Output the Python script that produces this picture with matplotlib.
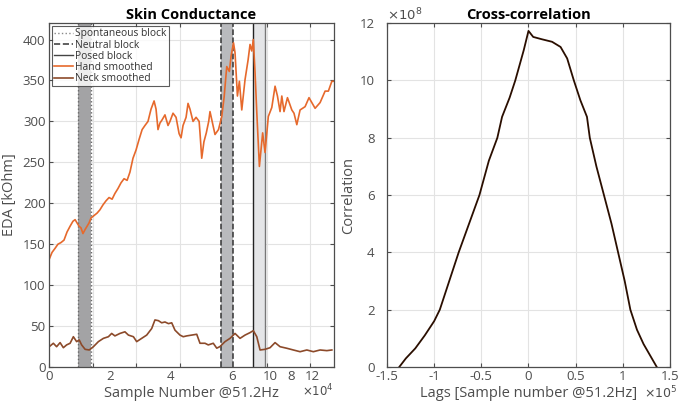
import numpy as np
import matplotlib.pyplot as plt

plt.rcParams['font.family'] = ['Open Sans', 'DejaVu Sans']

# --- data (x in units of 1e4 samples) ---
hand_x = [0.00, 0.14, 0.28, 0.41, 0.55, 0.69, 0.83, 0.97, 1.10, 1.20, 1.29, 1.38, 1.47, 1.56,
          1.66, 1.75, 1.84, 1.93, 2.07, 2.21, 2.34, 2.48, 2.62, 2.76, 2.90, 3.03, 3.17, 3.31,
          3.45, 3.59, 3.72, 3.86, 4.00, 4.14, 4.28, 4.41, 4.55, 4.69, 4.83, 4.92, 5.01, 5.10,
          5.20, 5.33, 5.47, 5.56, 5.70, 5.84, 5.98, 6.07, 6.16, 6.30, 6.39, 6.48, 6.62, 6.76,
          6.90, 6.94, 7.02, 7.12, 7.23, 7.34, 7.40, 7.63, 7.79, 7.94, 8.05, 8.17, 8.29, 8.37,
          8.48, 8.55, 8.66, 8.75, 8.86, 9.01, 9.15, 9.24, 9.32, 9.39, 9.47, 9.55, 9.67, 9.82,
          9.93, 10.08, 10.24, 10.39, 10.50, 10.62, 10.70, 10.80, 10.96, 11.16, 11.26, 11.39,
          11.54, 11.77, 11.95, 12.23, 12.46, 12.69, 12.84, 13.00, 13.07]
hand_y = [131, 140, 145, 150, 152, 155, 165, 172, 178, 180, 176, 172, 170, 163,
          168, 172, 176, 182, 185, 188, 192, 198, 203, 207, 205, 212, 218, 225,
          230, 228, 238, 255, 265, 278, 290, 295, 300, 315, 325, 315, 290, 298,
          302, 308, 295, 300, 310, 305, 285, 280, 295, 305, 322, 315, 300, 305,
          300, 286, 255, 275, 286, 300, 312, 284, 290, 306, 330, 367, 361, 380,
          396, 384, 331, 349, 314, 351, 375, 394, 386, 400, 360, 311, 245, 286,
          262, 306, 317, 343, 331, 312, 331, 312, 329, 314, 310, 296,
          314, 318, 329, 316, 323, 337, 337, 349, 349]

neck_x = [0.01, 0.20, 0.35, 0.51, 0.66, 0.81, 0.97, 1.12, 1.27, 1.39, 1.50, 1.66, 1.85, 2.04,
          2.27, 2.50, 2.73, 2.88, 3.03, 3.26, 3.49, 3.65, 3.88, 4.03, 4.26, 4.49, 4.72, 4.87,
          5.03, 5.18, 5.33, 5.49, 5.64, 5.79, 6.02, 6.17, 6.33, 6.56, 6.79, 6.94, 7.17, 7.32,
          7.55, 7.71, 7.86, 8.09, 8.32, 8.55, 8.78, 9.01, 9.24, 9.39, 9.55, 9.70, 9.93, 10.16,
          10.39, 10.62, 10.93, 11.23, 11.54, 11.85, 12.15, 12.46, 12.77, 13.00]
neck_y = [24.8, 29, 24.8, 29.8, 23.6, 27, 29, 37, 31, 33, 27, 21.6, 20.8, 24.8,
          31, 35, 37, 41, 38, 41, 43, 39, 37, 31, 35, 39, 47, 57.5,
          56.6, 54, 55, 53, 54, 45, 39, 37, 38, 39, 40, 29, 29, 27,
          29, 23, 25, 31, 35, 41, 35, 39, 42, 44.4, 37, 20.8, 21.6, 23.6,
          29.8, 24.8, 22.9, 20.8, 18.7, 20.8, 18.7, 20.8, 20, 20.8]

spont_block = (1.35, 1.92)
neutral_block = (7.89, 8.45)
posed_block = (9.39, 9.94)

# cross-correlation (lags in 1e5 samples, correlation in 1e8)
lags = [-1.37, -1.30, -1.20, -1.10, -1.00, -0.94, -0.85, -0.74, -0.63, -0.52, -0.42, -0.33,
        -0.28, -0.20, -0.14, -0.05, 0.00, 0.05, 0.14, 0.25, 0.34, 0.41, 0.48, 0.55, 0.62,
        0.65, 0.72, 0.80, 0.88, 0.95, 1.02, 1.08, 1.15, 1.22, 1.29, 1.36]
xcorr = [0.0, 0.3, 0.65, 1.1, 1.6, 2.0, 2.9, 4.0, 5.0, 6.0, 7.2, 8.0,
         8.73, 9.4, 10.0, 11.06, 11.73, 11.52, 11.44, 11.35, 11.17, 10.77, 10.01, 9.31, 8.73,
         8.0, 7.0, 6.0, 5.0, 4.0, 3.0, 2.0, 1.3, 0.8, 0.4, 0.0]

hand_color = '#e6692c'
neck_color = '#8c4a2a'
tick_color = '#4d4d4d'

fig = plt.figure(figsize=(6.94, 4.05), dpi=100)
ax1 = fig.add_axes([0.0706, 0.0938, 0.4107, 0.849])
ax2 = fig.add_axes([0.5576, 0.0938, 0.4078, 0.849])

def style_axes(ax):
    ax.grid(True, color='#e3e3e3', linewidth=0.8)
    ax.set_axisbelow(True)
    for s in ax.spines.values():
        s.set_color('#4d4d4d')
        s.set_linewidth(0.9)
    ax.tick_params(direction='in', top=True, right=True, colors=tick_color,
                   labelsize=9.5, length=3)
    ax.tick_params(axis='x', pad=1.5)
    ax.tick_params(axis='y', pad=2.5)

# --- left: skin conductance ---
style_axes(ax1)
ax1.axvspan(*spont_block, color='#a3a3a5', lw=0)
ax1.axvspan(*neutral_block, color='#b9babd', lw=0)
ax1.axvspan(*posed_block, color='#e4e5e7', lw=0)
for xv in spont_block:
    ax1.axvline(xv, color='#6a6a6a', ls=':', lw=1)
for xv in neutral_block:
    ax1.axvline(xv, color='#333333', ls='--', lw=1.1)
ax1.axvline(posed_block[0], color='#222222', ls='-', lw=1)
ax1.axvline(posed_block[1], color='#777777', ls='-', lw=1)

ax1.plot(hand_x, hand_y, color=hand_color, lw=1.2)
ax1.plot(neck_x, neck_y, color=neck_color, lw=1.2)

ax1.set_xlim(0, 13.1)
ax1.set_ylim(0, 420)
ax1.set_yticks(range(0, 401, 50))
ax1.set_xticks(range(0, 13, 2))
ax1.set_xticklabels([])
# tick labels as they appear in the original figure
lab_pos = [0, 2.8, 5.6, 8.4, 10.15, 11.15, 12.1]
lab_txt = ['0', '2', '4', '6', '10', '8', '12']
for p, t in zip(lab_pos, lab_txt):
    ax1.text(p, -4, t, ha='center', va='top', fontsize=9.5, color=tick_color)
ax1.text(1.0, -0.045, r'$\times10^4$', transform=ax1.transAxes, ha='right', va='top',
         fontsize=8.5, color=tick_color)
ax1.set_xlabel('Sample Number @51.2Hz', fontsize=10.5, color=tick_color, labelpad=12)
ax1.set_ylabel('EDA [kOhm]', fontsize=10.5, color=tick_color, labelpad=4)
ax1.set_title('Skin Conductance', fontsize=10.5, fontweight='bold', pad=3)

handles = [
    plt.Line2D([], [], color='#888888', ls=':', lw=1),
    plt.Line2D([], [], color='#444444', ls='--', lw=1.2),
    plt.Line2D([], [], color='#444444', ls='-', lw=1),
    plt.Line2D([], [], color=hand_color, lw=1.2),
    plt.Line2D([], [], color=neck_color, lw=1.2),
]
labels = ['Spontaneous block', 'Neutral block', 'Posed block', 'Hand smoothed', 'Neck smoothed']
leg = ax1.legend(handles, labels, loc='upper left', fontsize=7.4, frameon=True, fancybox=False,
                 handlelength=1.8, handletextpad=0.25, borderpad=0.2, labelspacing=0.02,
                 borderaxespad=0.3, labelcolor='#333333')
leg.get_frame().set_edgecolor('#333333')
leg.get_frame().set_linewidth(0.8)

# --- right: cross-correlation ---
style_axes(ax2)
ax2.plot(lags, xcorr, color='#2a0e00', lw=1.3)
ax2.set_xlim(-1.5, 1.5)
ax2.set_ylim(0, 12)
ax2.set_xticks(np.arange(-1.5, 1.51, 0.5))
ax2.set_xticklabels(['-1.5', '-1', '-0.5', '0', '0.5', '1', '1.5'])
ax2.set_yticks(range(0, 13, 2))
ax2.tick_params(axis='y', pad=9)
ax2.tick_params(axis='x', pad=2.5)
ax2.text(1.025, -0.05, r'$\times10^5$', transform=ax2.transAxes, ha='right', va='top',
         fontsize=9, color=tick_color)
ax2.text(0.0, 1.0, r'$\times10^8$', transform=ax2.transAxes, ha='left', va='bottom',
         fontsize=9.5, color=tick_color)
ax2.set_xlabel('Lags [Sample number @51.2Hz]', fontsize=10.5, color=tick_color, labelpad=2)
ax2.set_ylabel('Correlation', fontsize=10.5, color=tick_color, labelpad=2)
ax2.set_title('Cross-correlation', fontsize=10.5, fontweight='bold', pad=3)

fig.savefig('out.png', dpi=100)
